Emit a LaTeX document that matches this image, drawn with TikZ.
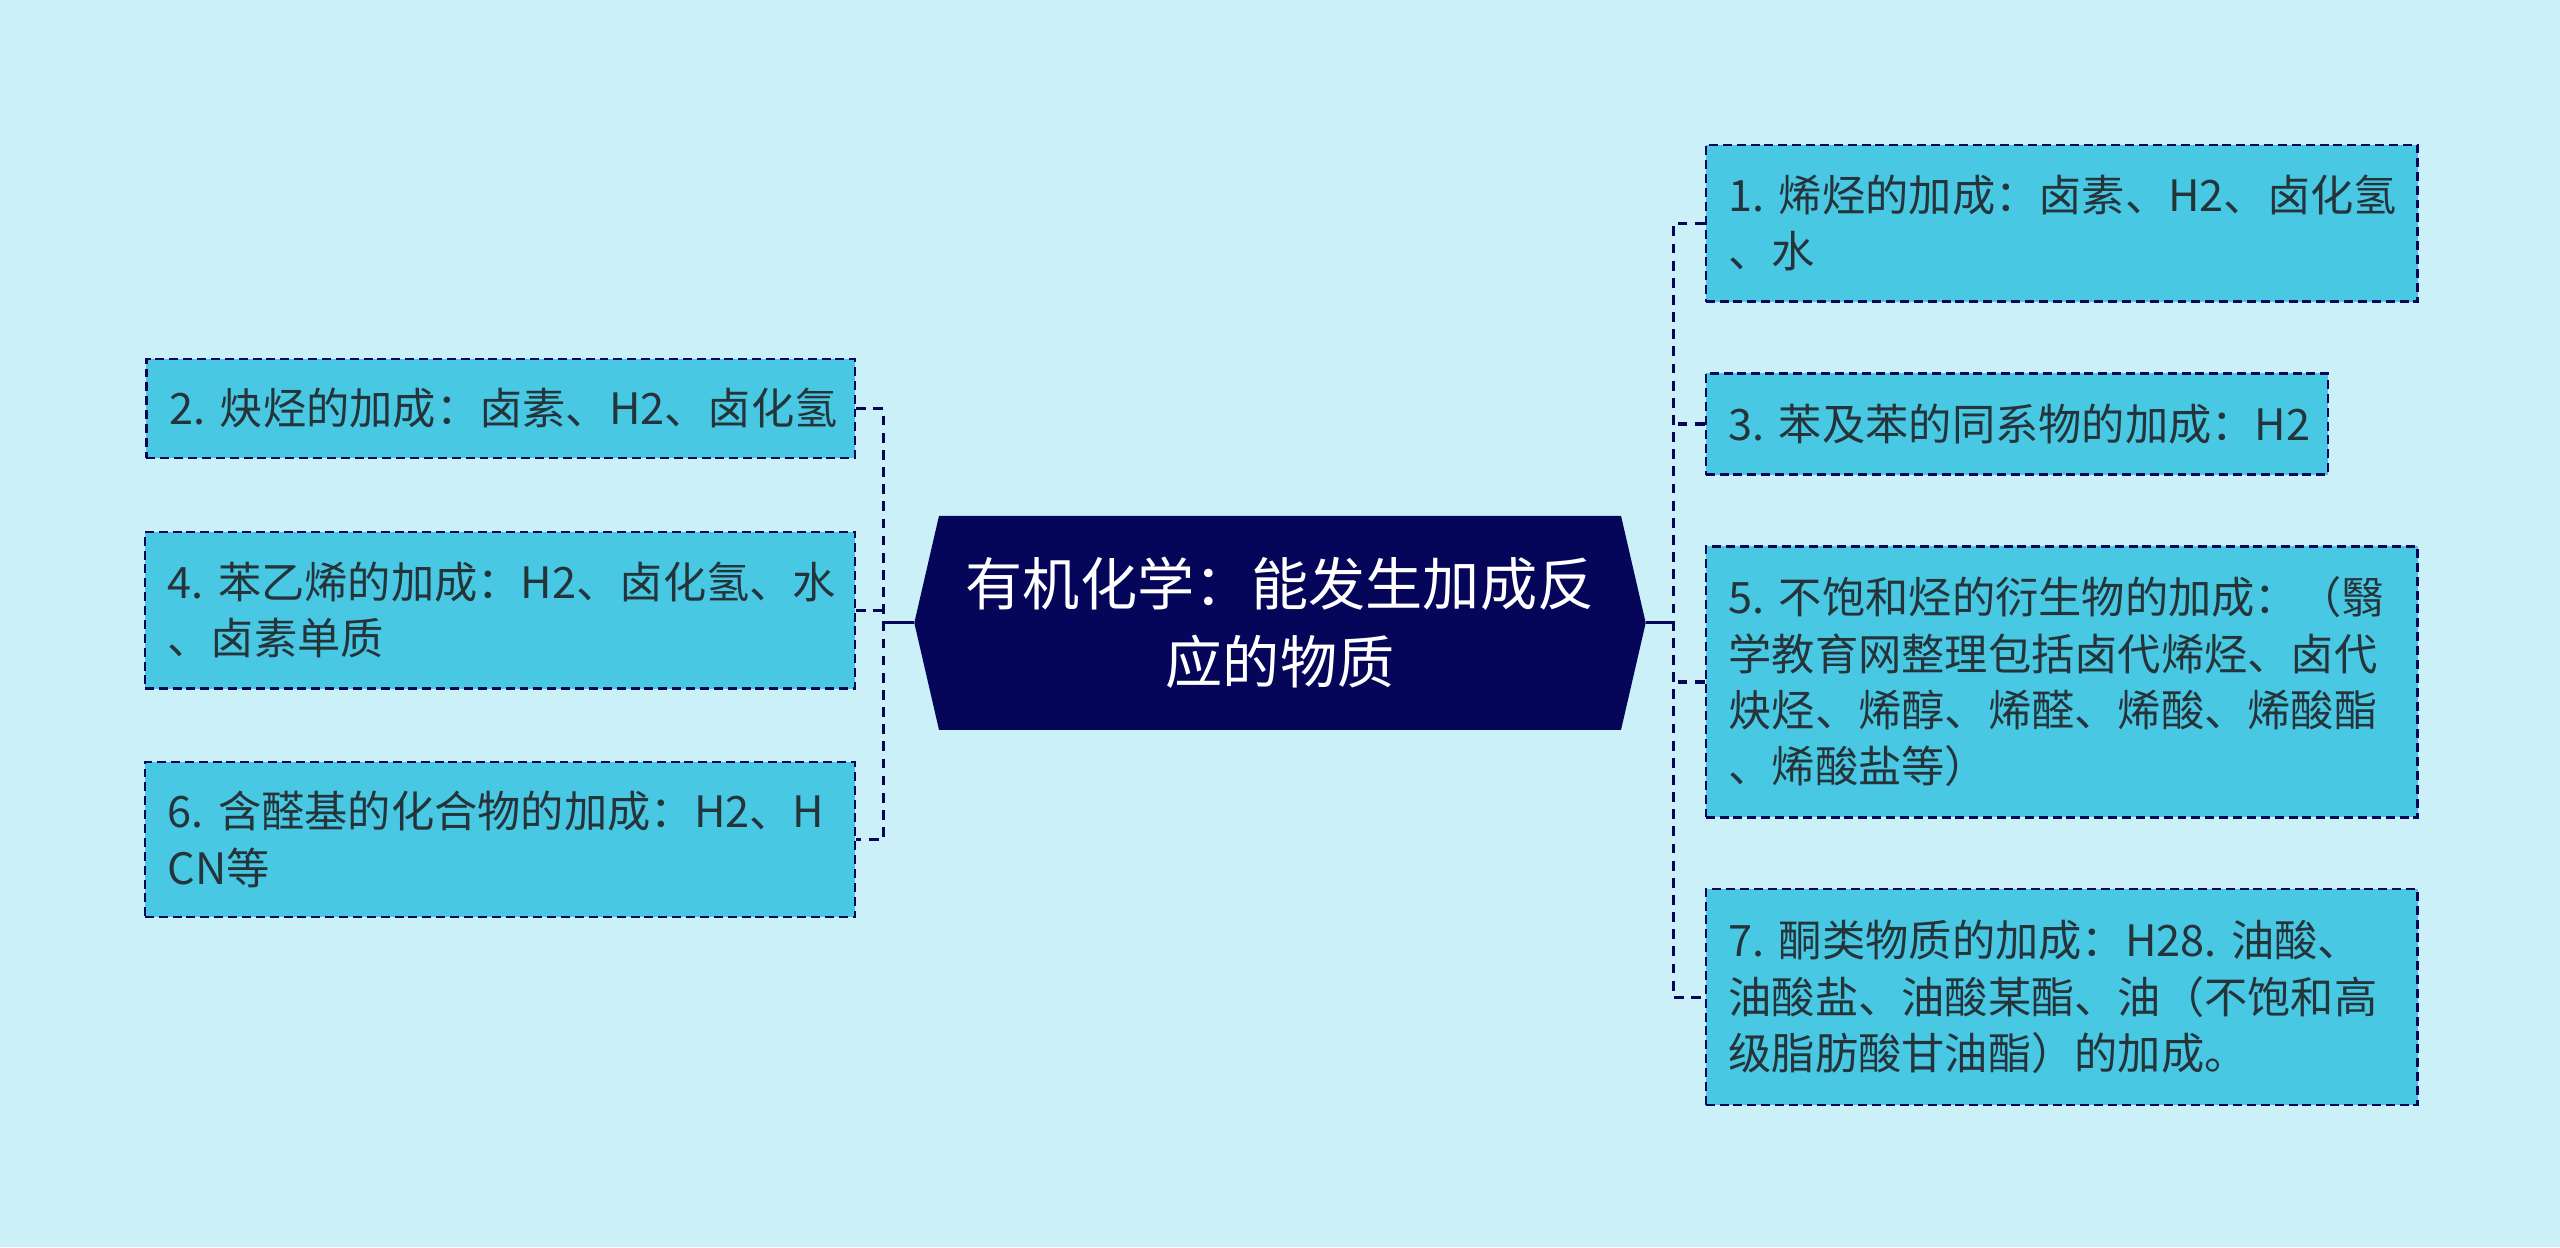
\documentclass[tikz,border=0pt]{standalone}
\usepackage{fontspec}
\setmainfont{Noto Sans CJK SC}
\usetikzlibrary{positioning, shapes.symbols}

\definecolor{bgcyan}{HTML}{CBF0F7}
\definecolor{boxcyan}{HTML}{48C8E2}
\definecolor{navy}{HTML}{05065A}
\definecolor{inktext}{HTML}{25343A}

\begin{document}
\begin{tikzpicture}
    [
        x=1pt, y=-1pt,
        leaf/.style={draw=navy, fill=boxcyan, rectangle, anchor=north west, align=left,
            line width=1.4pt, dash pattern=on 5.5pt off 3pt,
            inner xsep=14pt, inner ysep=0pt, text=inktext,
            font=\fontsize{26.5}{34.5}\selectfont},
        root/.style={signal, signal to=west and east, signal pointer angle=154,
            fill=navy, text=white, align=center, inner xsep=0pt, inner ysep=0pt,
            minimum width=448pt, minimum height=131pt,
            font=\fontsize{35}{48}\selectfont},
        link/.style={draw=navy, line width=1.9pt, dash pattern=on 6pt off 4.5pt},
        stem/.style={draw=navy, line width=1.9pt}
    ]
        % =========================================================================
        % CANVAS
        % =========================================================================
        \fill [bgcyan] (0,0) rectangle (1568,764);
        \useasboundingbox (0,0) rectangle (1568,764);

        % =========================================================================
        % NODES
        % =========================================================================
        % --- Centre ---
        \node [root] (root) at (784,381.5) {有机化学：能发生加成反\\应的物质};
        % --- Right column ---
        \node [leaf, text width=408pt, minimum height=96pt] (n1) at (1044,88)
            {1.~烯烃的加成：卤素、H2、卤化氢\\、水};
        \node [leaf, text width=353pt, minimum height=62pt] (n3) at (1044,228)
            {3.~苯及苯的同系物的加成：H2};
        \node [leaf, text width=408pt, minimum height=166pt] (n5) at (1044,334)
            {5.~不饱和烃的衍生物的加成：（翳\\学教育网整理包括卤代烯烃、卤代\\炔烃、烯醇、烯醛、烯酸、烯酸酯\\、烯酸盐等）};
        \node [leaf, text width=408pt, minimum height=132pt] (n7) at (1044,544)
            {7.~酮类物质的加成：H28.~油酸、\\油酸盐、油酸某酯、油（不饱和高\\级脂肪酸甘油酯）的加成。};
        % --- Left column ---
        \node [leaf, text width=406pt, minimum height=61pt] (n2) at (89,219)
            {2.~炔烃的加成：卤素、H2、卤化氢};
        \node [leaf, text width=407pt, minimum height=96pt] (n4) at (88,325)
            {4.~苯乙烯的加成：H2、卤化氢、水\\、卤素单质};
        \node [leaf, text width=407pt, minimum height=95pt] (n6) at (88,466)
            {6.~含醛基的化合物的加成：H2、H\\CN等};

        % --- Junctions ---
        \coordinate (ljoin) at (541,381.5);
        \coordinate (rjoin) at (1025,381.5);

        % =========================================================================
        % PATHS
        % =========================================================================
        % --- LEFT ---
        \draw [stem] (root.west) -- (ljoin);
        \draw [link] (n2.east) -| (ljoin) |- (n6.east);
        \draw [link] (n4.east) -- (n4.east -| ljoin);
        % --- RIGHT ---
        \draw [stem] (root.east) -- (rjoin);
        \draw [link] (n1.west) -| (rjoin) |- (n7.west);
        \draw [link] (n3.west) -- (n3.west -| rjoin);
        \draw [link] (n5.west) -- (n5.west -| rjoin);

    \end{tikzpicture}
\end{document}
